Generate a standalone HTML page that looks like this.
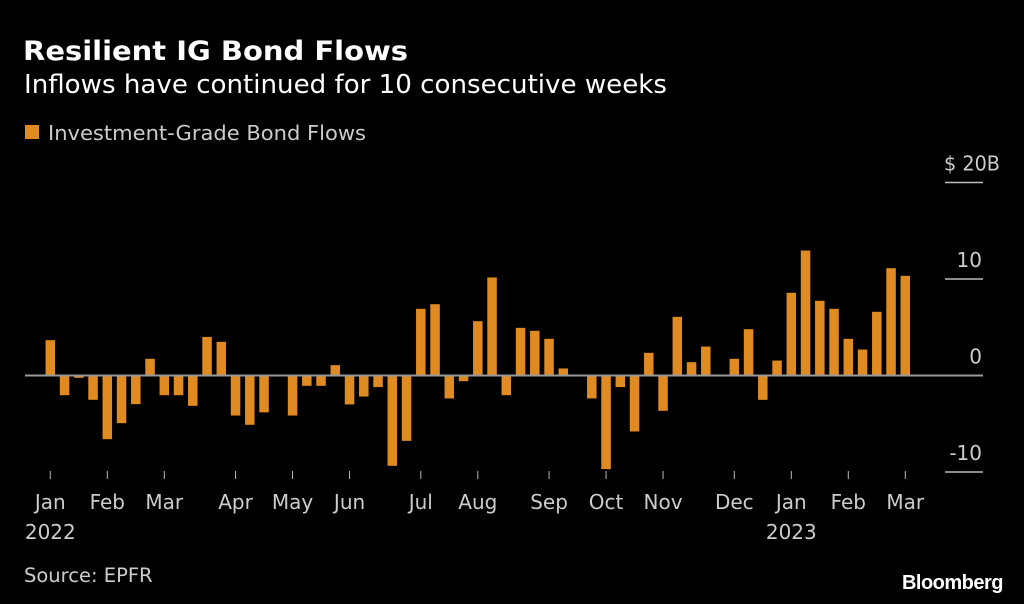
<!DOCTYPE html>
<html><head><meta charset="utf-8"><style>
body{margin:0;background:#000;width:1024px;height:604px;overflow:hidden;font-family:"DejaVu Sans","Liberation Sans",sans-serif;}
svg{display:block}
</style></head><body>
<svg width="1024" height="604">
<text x="23" y="60" fill="#fff" font-size="27" font-weight="bold" font-family="DejaVu Sans" textLength="385" lengthAdjust="spacingAndGlyphs">Resilient IG Bond Flows</text>
<text x="24" y="93" fill="#fff" font-size="26" font-family="DejaVu Sans" textLength="643" lengthAdjust="spacingAndGlyphs">Inflows have continued for 10 consecutive weeks</text>
<rect x="25" y="125" width="14" height="14" fill="#e08b22"/>
<text x="48" y="140" fill="#ccc" font-size="20.5" font-family="DejaVu Sans" textLength="318" lengthAdjust="spacingAndGlyphs">Investment-Grade Bond Flows</text>
<g id="yaxis"></g>
<g id="bars"></g>
<line x1="25" x2="983" y1="375.5" y2="375.5" stroke="#999" stroke-width="2" id="zero"/>
<g id="xaxis"></g>
<text x="24" y="582" fill="#ccc" font-size="19.5" font-family="DejaVu Sans">Source: EPFR</text>
<text x="1003" y="589" fill="#fff" font-size="20" font-weight="bold" text-anchor="end" letter-spacing="-0.5" font-family="Liberation Sans">Bloomberg</text>
</svg>
<script>
const values=[3.66,-2.04,-0.24,-2.52,-6.6,-4.94,-2.97,1.73,-2.04,-2.04,-3.14,4.0,3.49,-4.15,-5.11,-3.82,-0.1,-4.15,-1.07,-1.07,1.07,-3.0,-2.18,-1.2,-9.36,-6.77,6.91,7.39,-2.38,-0.59,5.63,10.16,-2.04,4.94,4.63,3.8,0.73,-0.1,-2.38,-9.7,-1.2,-5.8,2.35,-3.66,6.08,1.38,3.0,-0.1,1.73,4.8,-2.52,1.55,8.57,12.95,7.74,6.91,3.8,2.69,6.6,11.12,10.33];
const monthIdx=[0,4,8,13,17,21,26,30,35,39,43,48,52,56,60];
const monthLabels=["Jan","Feb","Mar","Apr","May","Jun","Jul","Aug","Sep","Oct","Nov","Dec","Jan","Feb","Mar"];
const yearLabels={0:"2022",12:"2023"};
const yTicks=[20,10,0,-10];
const yTickLabels=["$ 20B","10","0","-10"];
const NS="http://www.w3.org/2000/svg";
const x0=50.3,step=14.25,bw=9.5;
const xs=i=>x0+i*step;
const ys=v=>375.5-v*9.65;
function mk(tag,attrs,parent){const e=document.createElementNS(NS,tag);for(const k in attrs)e.setAttribute(k,attrs[k]);parent.appendChild(e);return e;}
const bars=document.getElementById('bars');
values.forEach((v,i)=>{
 const y=Math.min(ys(v),ys(0)),h=Math.abs(ys(v)-ys(0));
 const r=mk('rect',{x:xs(i)-bw/2,y:y,width:bw,height:Math.max(h,0.5),fill:'#e08b22'},bars);
 
 
});
const ya=document.getElementById('yaxis');
yTicks.forEach((t,i)=>{
 if(t!==0){const l=mk('line',{x1:945,x2:983,y1:ys(t),y2:ys(t),stroke:'#bbb','stroke-width':1.5},ya);
 
 }
 const tx=mk('text',{x:982,y:ys(t)-12,fill:'#ccc','font-size':20,'text-anchor':'end','font-family':'DejaVu Sans'},ya);
 tx.textContent=yTickLabels[i];
 if(t===20){tx.setAttribute('text-anchor','start');tx.setAttribute('x','944');tx.setAttribute('textLength','56');tx.setAttribute('lengthAdjust','spacingAndGlyphs');}
 
 
});
const xa=document.getElementById('xaxis');
monthIdx.forEach((m,i)=>{
 const x=xs(m);
 const l=mk('line',{x1:x,x2:x,y1:471,y2:479,stroke:'#bbb','stroke-width':1},xa);
 
 
 const t=mk('text',{x:x,y:509,fill:'#ccc','font-size':20,'text-anchor':'middle','font-family':'DejaVu Sans'},xa);
 t.textContent=monthLabels[i];
 
 
 if(yearLabels[i]){const y=mk('text',{x:x,y:539,fill:'#ccc','font-size':20,'text-anchor':'middle','font-family':'DejaVu Sans'},xa);
 y.textContent=yearLabels[i];
 
 }
});
</script>
</body></html>
